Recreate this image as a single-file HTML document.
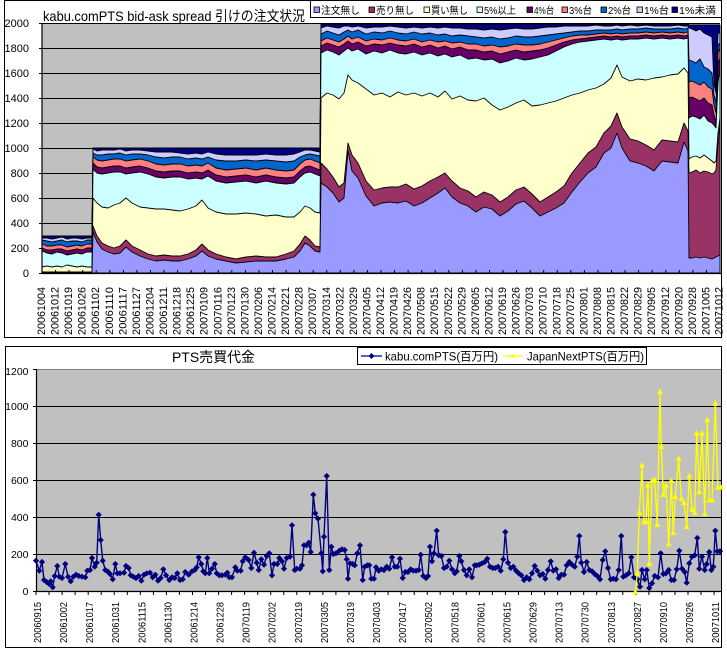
<!DOCTYPE html>
<html><head><meta charset="utf-8"><style>
html,body{margin:0;padding:0;background:#fff;}
svg{display:block;}
text{font-family:"Liberation Sans","Noto Sans CJK JP",sans-serif;fill:#000;}
</style></head><body>
<svg width="727" height="652" viewBox="0 0 727 652" xmlns="http://www.w3.org/2000/svg">
<defs>
<marker id="dm" markerWidth="7" markerHeight="7" refX="3.5" refY="3.5" markerUnits="userSpaceOnUse"><path d="M3.5,0.4 L6.6,3.5 L3.5,6.6 L0.4,3.5Z" fill="#000080"/></marker>
<marker id="tm" markerWidth="7" markerHeight="7" refX="3.5" refY="3.5" markerUnits="userSpaceOnUse"><path d="M3.5,0.3 L6.5,5.8 L0.5,5.8Z" fill="#FFFF00"/></marker>
</defs>

<!-- ============ TOP CHART ============ -->
<rect x="4.5" y="0.5" width="717" height="337" fill="#fff" stroke="#000" stroke-width="1"/>
<rect x="42" y="23" width="678" height="250" fill="#C0C0C0"/>
<g stroke="#000" stroke-width="1">
<path d="M42,23.5H720M42,48.5H720M42,73.5H720M42,98.5H720M42,123.5H720M42,148.5H720M42,173.5H720M42,198.5H720M42,223.5H720M42,248.5H720"/>
</g>

<g stroke="#000" stroke-width="0.9" stroke-linejoin="round">
<polygon fill="#000080" points="42,236 92,236 93,148 320,148 321,24 688,24 689,25 720,25 720,273 42,273"/>
<polygon fill="#CCCCFF" points="42,238 47,238 52,239 57,238 62,237 67,239 72,238 77,238 82,239 87,238 92,238 93,149 97,151 102,150 108,150 114,150 120,149 126,151 132,150 140,150 148,151 156,152 164,152 172,152 180,153 188,154 196,153 202,154 208,152 216,154 226,155 236,155 246,155 256,155 266,154 276,155 286,155 294,154 300,152 305,150 310,150 315,151 320,152 321,28 327,26 333,27 339,28 344,26 348,26 352,27 358,26 366,28 374,27 382,27 390,26 398,27 406,28 414,27 422,28 430,27 438,28 445,27 452,28 460,28 468,29 476,29 484,30 492,29 500,30 508,29 516,28 524,29 532,29 540,28 548,27 556,27 564,26 572,26 580,26 588,26 596,25 604,26 611,26 617,25 622,26 630,25 638,26 646,25 654,26 662,26 670,26 678,25 684,26 688,26 689,28 692,29 696,31 700,29 704,33 708,35 712,37 714,85 716,93 718,33 720,33 720,273 42,273"/>
<polygon fill="#0066CC" points="42,240 47,241 52,242 57,241 62,240 67,242 72,241 77,241 82,242 87,240 92,240 93,153 97,155 102,155 108,154 114,154 120,153 126,155 132,154 140,154 148,155 156,157 164,158 172,157 180,157 188,159 196,158 202,159 208,157 216,160 226,161 236,161 246,160 256,161 266,160 276,161 286,162 294,161 300,157 305,155 310,154 315,155 320,156 321,34 327,31 333,33 339,35 344,32 348,30 352,32 358,30 366,34 374,32 382,33 390,31 398,33 406,34 414,32 422,34 430,33 438,35 445,34 452,36 460,35 468,36 476,37 484,38 492,37 500,39 508,38 516,36 524,37 532,37 540,36 548,35 556,34 564,33 572,32 580,31 588,31 596,30 604,30 611,30 617,29 622,30 630,29 638,29 646,28 654,29 662,29 670,29 678,28 684,29 688,28 689,60 692,61 696,63 700,59 704,67 708,69 712,73 714,95 716,103 718,45 720,43 720,273 42,273"/>
<polygon fill="#FF8080" points="42,244 47,246 52,246 57,245 62,245 67,247 72,246 77,245 82,246 87,244 92,244 93,157 97,160 102,161 108,160 114,159 120,159 126,161 132,160 140,159 148,161 156,164 164,165 172,164 180,164 188,166 196,165 202,166 208,163 216,168 226,170 236,169 246,168 256,170 266,168 276,170 286,171 294,170 300,164 305,160 310,159 315,161 320,163 321,41 327,38 333,40 339,42 344,39 348,36 352,39 358,37 366,41 374,39 382,40 390,38 398,40 406,41 414,39 422,42 430,40 438,42 445,41 452,43 460,42 468,44 476,44 484,46 492,45 500,47 508,46 516,44 524,45 532,45 540,44 548,42 556,40 564,38 572,36 580,35 588,35 596,34 604,33 611,34 617,33 622,34 630,33 638,33 646,32 654,33 662,32 670,33 678,32 684,33 688,32 689,82 692,81 696,83 700,85 704,82 708,87 712,89 714,105 716,113 718,53 720,48 720,273 42,273"/>
<polygon fill="#660066" points="42,248 47,250 52,250 57,249 62,249 67,251 72,250 77,249 82,250 87,248 92,248 93,163 97,167 102,168 108,167 114,166 120,166 126,168 132,167 140,166 148,168 156,171 164,172 172,171 180,171 188,173 196,172 202,173 208,170 216,175 226,177 236,176 246,175 256,177 266,175 276,177 286,178 294,177 300,171 305,167 310,166 315,168 320,170 321,46 327,43 333,45 339,47 344,44 348,41 352,44 358,42 366,46 374,44 382,45 390,43 398,45 406,46 414,44 422,47 430,45 438,48 445,46 452,49 460,47 468,50 476,50 484,52 492,51 500,54 508,52 516,50 524,52 532,51 540,50 548,48 556,45 564,42 572,40 580,39 588,38 596,37 604,36 611,37 617,36 622,37 630,36 638,36 646,35 654,36 662,35 670,36 678,35 684,36 688,35 689,98 692,97 696,99 700,101 704,98 708,103 712,105 714,115 716,123 718,63 720,58 720,273 42,273"/>
<polygon fill="#CCFFFF" points="42,251 47,253 52,254 57,252 62,253 67,255 72,254 77,253 82,254 87,252 92,252 93,169 97,173 102,174 108,173 114,172 120,172 126,174 132,173 140,172 148,174 156,177 164,178 172,177 180,177 188,179 196,178 202,179 208,176 216,181 226,183 236,182 246,181 256,183 266,181 276,183 286,184 294,183 300,177 305,173 310,172 315,174 320,176 321,53 327,50 333,52 339,55 344,51 348,48 352,51 358,49 366,54 374,51 382,53 390,50 398,53 406,54 414,52 422,55 430,53 438,56 445,54 452,57 460,55 468,59 476,58 484,60 492,59 500,63 508,61 516,58 524,60 532,59 540,57 548,55 556,51 564,47 572,44 580,42 588,41 596,40 604,39 611,40 617,39 622,40 630,39 638,39 646,38 654,39 662,38 670,39 678,38 684,39 688,38 689,118 692,116 696,117 700,119 704,115 708,121 712,123 714,125 716,128 718,83 720,68 720,273 42,273"/>
<polygon fill="#FFFFCC" points="42,267 47,266 52,267 57,266 62,267 67,265 72,266 77,267 82,266 87,267 92,267 93,198 97,203 102,207 108,208 114,205 120,203 126,198 132,203 140,207 148,208 156,209 164,209 172,210 180,211 188,209 196,206 202,200 208,208 216,212 226,214 236,214 246,213 256,214 266,216 276,215 286,217 294,217 300,212 305,206 310,208 315,212 320,213 321,98 327,93 333,95 339,99 344,93 348,75 352,80 358,83 366,89 374,95 382,93 390,97 398,92 406,95 414,93 422,96 430,93 438,97 445,91 452,99 460,96 468,100 476,101 484,98 492,105 500,110 508,107 516,103 524,100 532,106 540,105 548,103 556,101 564,98 572,95 580,93 588,90 596,88 604,84 611,78 617,65 622,77 630,81 638,79 646,80 654,78 662,77 670,75 678,74 684,68 688,73 689,159 692,157 696,156 700,158 704,155 708,158 712,161 714,163 716,161 718,133 720,118 720,273 42,273"/>
<polygon fill="#993366" points="42,272 92,272 93,226 97,236 102,243 108,246 114,248 120,246 126,240 132,246 140,250 148,254 156,256 164,255 172,256 180,256 188,254 196,250 202,244 208,250 216,254 226,257 236,259 246,257 256,256 266,257 276,257 286,254 294,251 300,244 305,236 310,240 315,246 320,247 321,163 327,169 333,177 339,187 344,183 348,143 352,155 358,163 366,181 374,190 382,188 390,187 398,187 406,184 414,189 422,186 430,181 438,177 445,173 452,181 460,188 468,191 476,197 484,192 492,195 500,202 508,197 516,190 524,187 532,194 540,202 548,197 556,192 564,186 572,173 580,163 588,153 596,147 604,133 611,126 617,113 622,127 630,139 638,141 646,145 654,150 662,140 670,141 678,142 684,123 688,131 689,173 692,172 696,170 700,173 704,171 708,172 712,174 714,173 716,170 718,143 720,123 720,273 42,273"/>
<polygon fill="#9999FF" points="42,272.5 92,272.5 93,232 97,242 102,249 108,252 114,254 120,253 126,247 132,252 140,256 148,259 156,261 164,260 172,261 180,261 188,259 196,256 202,251 208,256 216,259 226,261 236,263 246,262 256,261 266,261 276,261 286,259 294,257 300,251 305,243 310,246 315,251 320,252 321,183 327,187 333,193 339,202 344,198 348,151 352,171 358,178 366,196 374,206 382,203 390,202 398,203 406,201 414,206 422,203 430,198 438,193 445,188 452,197 460,203 468,206 476,212 484,207 492,209 500,216 508,211 516,204 524,201 532,208 540,216 548,212 556,208 564,203 572,192 580,182 588,173 596,167 604,153 611,148 617,133 622,148 630,161 638,163 646,166 654,171 662,161 670,162 678,163 684,142 688,151 689,258 692,258 696,257 700,258 704,257 708,258 712,259 714,258 716,257 718,256 720,255 720,273 42,273"/>
</g>

<!-- top axes -->
<g stroke="#000" stroke-width="1.2" fill="none">
<path d="M42,23V273.5H721"/>
<path d="M42,270V273M55.6,270V273M69.1,270V273M82.7,270V273M96.2,270V273M109.8,270V273M123.4,270V273M136.9,270V273M150.5,270V273M164,270V273M177.6,270V273M191.2,270V273M204.7,270V273M218.3,270V273M231.8,270V273M245.4,270V273M259,270V273M272.5,270V273M286.1,270V273M299.6,270V273M313.2,270V273M326.8,270V273M340.3,270V273M353.9,270V273M367.4,270V273M381,270V273M394.6,270V273M408.1,270V273M421.7,270V273M435.2,270V273M448.8,270V273M462.4,270V273M475.9,270V273M489.5,270V273M503,270V273M516.6,270V273M530.2,270V273M543.7,270V273M557.3,270V273M570.8,270V273M584.4,270V273M598,270V273M611.5,270V273M625.1,270V273M638.6,270V273M652.2,270V273M665.8,270V273M679.3,270V273M692.9,270V273M706.4,270V273M720,270V273" stroke-width="1"/>
<path d="M39,23.5H42M39,48.5H42M39,73.5H42M39,98.5H42M39,123.5H42M39,148.5H42M39,173.5H42M39,198.5H42M39,223.5H42M39,248.5H42M39,273.5H42" stroke-width="1"/>
</g>

<g font-size="11" text-anchor="end">
<text x="29" y="277">0</text>
<text x="29" y="252">200</text>
<text x="29" y="227">400</text>
<text x="29" y="202">600</text>
<text x="29" y="177">800</text>
<text x="29" y="152">1000</text>
<text x="29" y="127">1200</text>
<text x="29" y="102">1400</text>
<text x="29" y="77">1600</text>
<text x="29" y="52">1800</text>
<text x="29" y="27">2000</text>
</g>

<g font-size="11">
<text transform="translate(45,335) rotate(-90)" textLength="48" lengthAdjust="spacingAndGlyphs">20061004</text>
<text transform="translate(58.6,335) rotate(-90)" textLength="48" lengthAdjust="spacingAndGlyphs">20061012</text>
<text transform="translate(72.1,335) rotate(-90)" textLength="48" lengthAdjust="spacingAndGlyphs">20061019</text>
<text transform="translate(85.7,335) rotate(-90)" textLength="48" lengthAdjust="spacingAndGlyphs">20061026</text>
<text transform="translate(99.2,335) rotate(-90)" textLength="48" lengthAdjust="spacingAndGlyphs">20061102</text>
<text transform="translate(112.8,335) rotate(-90)" textLength="48" lengthAdjust="spacingAndGlyphs">20061110</text>
<text transform="translate(126.4,335) rotate(-90)" textLength="48" lengthAdjust="spacingAndGlyphs">20061117</text>
<text transform="translate(139.9,335) rotate(-90)" textLength="48" lengthAdjust="spacingAndGlyphs">20061127</text>
<text transform="translate(153.5,335) rotate(-90)" textLength="48" lengthAdjust="spacingAndGlyphs">20061204</text>
<text transform="translate(167,335) rotate(-90)" textLength="48" lengthAdjust="spacingAndGlyphs">20061211</text>
<text transform="translate(180.6,335) rotate(-90)" textLength="48" lengthAdjust="spacingAndGlyphs">20061218</text>
<text transform="translate(194.2,335) rotate(-90)" textLength="48" lengthAdjust="spacingAndGlyphs">20061225</text>
<text transform="translate(207.7,335) rotate(-90)" textLength="48" lengthAdjust="spacingAndGlyphs">20070109</text>
<text transform="translate(221.3,335) rotate(-90)" textLength="48" lengthAdjust="spacingAndGlyphs">20070116</text>
<text transform="translate(234.8,335) rotate(-90)" textLength="48" lengthAdjust="spacingAndGlyphs">20070123</text>
<text transform="translate(248.4,335) rotate(-90)" textLength="48" lengthAdjust="spacingAndGlyphs">20070130</text>
<text transform="translate(262,335) rotate(-90)" textLength="48" lengthAdjust="spacingAndGlyphs">20070206</text>
<text transform="translate(275.5,335) rotate(-90)" textLength="48" lengthAdjust="spacingAndGlyphs">20070214</text>
<text transform="translate(289.1,335) rotate(-90)" textLength="48" lengthAdjust="spacingAndGlyphs">20070221</text>
<text transform="translate(302.6,335) rotate(-90)" textLength="48" lengthAdjust="spacingAndGlyphs">20070228</text>
<text transform="translate(316.2,335) rotate(-90)" textLength="48" lengthAdjust="spacingAndGlyphs">20070307</text>
<text transform="translate(329.8,335) rotate(-90)" textLength="48" lengthAdjust="spacingAndGlyphs">20070314</text>
<text transform="translate(343.3,335) rotate(-90)" textLength="48" lengthAdjust="spacingAndGlyphs">20070322</text>
<text transform="translate(356.9,335) rotate(-90)" textLength="48" lengthAdjust="spacingAndGlyphs">20070329</text>
<text transform="translate(370.4,335) rotate(-90)" textLength="48" lengthAdjust="spacingAndGlyphs">20070405</text>
<text transform="translate(384,335) rotate(-90)" textLength="48" lengthAdjust="spacingAndGlyphs">20070412</text>
<text transform="translate(397.6,335) rotate(-90)" textLength="48" lengthAdjust="spacingAndGlyphs">20070419</text>
<text transform="translate(411.1,335) rotate(-90)" textLength="48" lengthAdjust="spacingAndGlyphs">20070426</text>
<text transform="translate(424.7,335) rotate(-90)" textLength="48" lengthAdjust="spacingAndGlyphs">20070508</text>
<text transform="translate(438.2,335) rotate(-90)" textLength="48" lengthAdjust="spacingAndGlyphs">20070515</text>
<text transform="translate(451.8,335) rotate(-90)" textLength="48" lengthAdjust="spacingAndGlyphs">20070522</text>
<text transform="translate(465.4,335) rotate(-90)" textLength="48" lengthAdjust="spacingAndGlyphs">20070529</text>
<text transform="translate(478.9,335) rotate(-90)" textLength="48" lengthAdjust="spacingAndGlyphs">20070605</text>
<text transform="translate(492.5,335) rotate(-90)" textLength="48" lengthAdjust="spacingAndGlyphs">20070612</text>
<text transform="translate(506,335) rotate(-90)" textLength="48" lengthAdjust="spacingAndGlyphs">20070619</text>
<text transform="translate(519.6,335) rotate(-90)" textLength="48" lengthAdjust="spacingAndGlyphs">20070626</text>
<text transform="translate(533.2,335) rotate(-90)" textLength="48" lengthAdjust="spacingAndGlyphs">20070703</text>
<text transform="translate(546.7,335) rotate(-90)" textLength="48" lengthAdjust="spacingAndGlyphs">20070710</text>
<text transform="translate(560.3,335) rotate(-90)" textLength="48" lengthAdjust="spacingAndGlyphs">20070718</text>
<text transform="translate(573.8,335) rotate(-90)" textLength="48" lengthAdjust="spacingAndGlyphs">20070725</text>
<text transform="translate(587.4,335) rotate(-90)" textLength="48" lengthAdjust="spacingAndGlyphs">20070801</text>
<text transform="translate(601,335) rotate(-90)" textLength="48" lengthAdjust="spacingAndGlyphs">20070808</text>
<text transform="translate(614.5,335) rotate(-90)" textLength="48" lengthAdjust="spacingAndGlyphs">20070815</text>
<text transform="translate(628.1,335) rotate(-90)" textLength="48" lengthAdjust="spacingAndGlyphs">20070822</text>
<text transform="translate(641.6,335) rotate(-90)" textLength="48" lengthAdjust="spacingAndGlyphs">20070829</text>
<text transform="translate(655.2,335) rotate(-90)" textLength="48" lengthAdjust="spacingAndGlyphs">20070905</text>
<text transform="translate(668.8,335) rotate(-90)" textLength="48" lengthAdjust="spacingAndGlyphs">20070912</text>
<text transform="translate(682.3,335) rotate(-90)" textLength="48" lengthAdjust="spacingAndGlyphs">20070920</text>
<text transform="translate(695.9,335) rotate(-90)" textLength="48" lengthAdjust="spacingAndGlyphs">20070928</text>
<text transform="translate(709.4,335) rotate(-90)" textLength="48" lengthAdjust="spacingAndGlyphs">20071005</text>
<text transform="translate(722.5,335) rotate(-90)" textLength="48" lengthAdjust="spacingAndGlyphs">20071012</text>
</g>

<!-- top title -->
<text x="43" y="21" font-size="14" textLength="262" lengthAdjust="spacingAndGlyphs">kabu.comPTS bid-ask spread 引けの注文状況</text>

<!-- top legend -->
<rect x="310.5" y="0.5" width="411" height="17" fill="#fff" stroke="#000" stroke-width="1"/>
<g stroke="#000" stroke-width="0.8">
<rect x="314" y="7" width="5.5" height="5.5" fill="#9999FF"/>
<rect x="369" y="7" width="5.5" height="5.5" fill="#993366"/>
<rect x="424" y="7" width="5.5" height="5.5" fill="#FFFFCC"/>
<rect x="477" y="7" width="5.5" height="5.5" fill="#CCFFFF"/>
<rect x="527" y="7" width="5.5" height="5.5" fill="#660066"/>
<rect x="562" y="7" width="5.5" height="5.5" fill="#FF8080"/>
<rect x="601" y="7" width="5.5" height="5.5" fill="#0066CC"/>
<rect x="637" y="7" width="5.5" height="5.5" fill="#CCCCFF"/>
<rect x="672" y="7" width="5.5" height="5.5" fill="#000080"/>
</g>
<g font-size="10">
<text x="321" y="14" textLength="39" lengthAdjust="spacingAndGlyphs">注文無し</text>
<text x="376" y="14" textLength="38" lengthAdjust="spacingAndGlyphs">売り無し</text>
<text x="431" y="14" textLength="37" lengthAdjust="spacingAndGlyphs">買い無し</text>
<text x="484" y="14" textLength="32" lengthAdjust="spacingAndGlyphs">5%以上</text>
<text x="534" y="14" textLength="20" lengthAdjust="spacingAndGlyphs">4%台</text>
<text x="569" y="14" textLength="23" lengthAdjust="spacingAndGlyphs">3%台</text>
<text x="608" y="14" textLength="23" lengthAdjust="spacingAndGlyphs">2%台</text>
<text x="644" y="14" textLength="25" lengthAdjust="spacingAndGlyphs">1%台</text>
<text x="679" y="14" textLength="37" lengthAdjust="spacingAndGlyphs">1%未満</text>
</g>

<!-- ============ BOTTOM CHART ============ -->
<rect x="5.5" y="346.5" width="716" height="301" fill="#fff" stroke="#000" stroke-width="1"/>
<rect x="36" y="369" width="685" height="222" fill="#C0C0C0"/>
<path d="M36,369.5H721" stroke="#808080" stroke-width="1"/>
<path d="M36,406.5H721M36,443.5H721M36,480.5H721M36,517.5H721M36,554.5H721" stroke="#000" stroke-width="1"/>
<g stroke="#000" fill="none">
<path d="M36.5,369V591.5H721" stroke-width="1.2"/>
<path d="M33,369.5H36M33,406.5H36M33,443.5H36M33,480.5H36M33,517.5H36M33,554.5H36M33,591.5H36" stroke-width="1"/>
<path d="M36,591V595M49,591V595M62.1,591V595M75.1,591V595M88.2,591V595M101.2,591V595M114.2,591V595M127.3,591V595M140.3,591V595M153.4,591V595M166.4,591V595M179.4,591V595M192.5,591V595M205.5,591V595M218.6,591V595M231.6,591V595M244.6,591V595M257.7,591V595M270.7,591V595M283.8,591V595M296.8,591V595M309.8,591V595M322.9,591V595M335.9,591V595M349,591V595M362,591V595M375,591V595M388.1,591V595M401.1,591V595M414.2,591V595M427.2,591V595M440.2,591V595M453.3,591V595M466.3,591V595M479.4,591V595M492.4,591V595M505.4,591V595M518.5,591V595M531.5,591V595M544.6,591V595M557.6,591V595M570.6,591V595M583.7,591V595M596.7,591V595M609.8,591V595M622.8,591V595M635.8,591V595M648.9,591V595M661.9,591V595M675,591V595M688,591V595M701,591V595M714.1,591V595" stroke-width="1"/>
</g>

<!-- kabu series -->
<polyline fill="none" stroke="#000080" stroke-width="1.4" stroke-linejoin="round" marker-start="url(#dm)" marker-mid="url(#dm)" marker-end="url(#dm)" points="36,560.7 39.3,570.7 42,562 44,580 46.7,582 49.3,584 50.7,581.3 52.7,587.3 54.7,576 57.3,566 59.3,576.7 62,578 65.3,564 68,576.7 70.7,581.3 73.3,576.7 76,574.7 78.7,576 82,576.7 85.3,577.3 87.3,570.7 90,570 92,558 94.7,566.7 96.7,562.7 98.7,514.7 100.7,540 102.7,560.7 105.3,570 108,571.7 110,574 112.7,579.3 115.3,564 117.3,573.3 120,573.3 124,572.7 126,566 128.7,568 130.7,575.3 133.3,576.7 136,578 138.7,576 141.3,580.7 144,574.7 146.7,573.3 150,572.7 152.7,577.3 155.3,574.7 158,580.7 160.7,578 163.3,569.3 166,575.3 169.3,580 172,577.3 174.7,578 177.3,573.3 180,580 182.7,579.3 185.3,572 188.7,574.7 192,571.3 194.7,570 196.7,567.3 198.7,557.3 201.3,564 203.3,571.3 205.3,573.3 207.3,558 209.3,573.3 212,568.7 214.7,564 216.7,573.3 219.3,575.3 222,575.3 225.3,574.7 227.3,572.7 229.3,577.3 232,577.3 235.3,567.3 237.3,570.7 240.7,570.7 242.7,561.3 245.3,557.3 248.7,560 251.3,568 254,552.7 256.7,562.7 258.7,570 261.3,559.3 264,564.7 266.7,556 269.3,553.3 272,575.3 274,564 277.3,564 279.3,558 282,561.3 284,568.7 286.7,558 290,556.7 292,525.3 294.7,570 296.7,568.7 300,568.7 302,565.3 304,545.3 306.7,545.3 308.7,542.7 310.7,552 313.3,494.7 315.3,513.3 318,518.7 321.3,553.3 322.7,571.3 324,536.7 326.7,476 329.3,570 331.3,546.7 333.3,554 336,553.3 339.3,550.7 342,549.3 344.7,550 346.7,559.3 348,578.7 350,563.3 352.7,564 354.7,565.3 357.3,553.3 360,545.3 362.7,580 364.7,566.7 367.3,565.3 369.3,565.3 371.3,578.7 374,578.7 376,567.3 378.7,570.7 381.3,569.3 384,570 386.7,566.7 389.3,568.7 392,557.3 394.7,566.7 397.3,566.7 400,558.7 402.7,578 405.3,572 408,572 410.7,569.3 413.3,570.7 416,570.7 418.7,570 420.7,554.7 423.3,576 426,578 428,576 430,546.7 432,561.3 434,553.3 436.7,530.7 438.7,555.3 441.3,556 444,568 446.7,566.7 449.3,560.7 452,569.3 454.7,573.3 456.7,571.3 459.3,556 461.3,561.3 464,570 466.7,575.3 469.3,569.3 472,577.3 474.7,565.3 476.7,565.3 479.3,564.7 482,563.3 484.7,562 487.3,558.7 490,566.7 492.7,568 495.3,568 498,566.7 500.7,570.7 503.3,559.3 505.3,532 508,562.7 510.7,568 513.3,566.7 516,570.7 518.7,573.3 521.3,575.3 524,580 526.7,577.3 529.3,579.3 532,573.3 534.7,566 537.3,570.7 540,575.3 542.7,574 545.3,578.7 548,570 550.7,561.3 553.3,570.7 556,569.3 558.7,578 561.3,574.7 564,574.7 566.7,565.3 569.3,562 572,564.7 574.7,566.7 577.3,556.7 579.3,536 581.3,562.7 584,572 586.7,562 589.3,570 592,571.3 594.7,574 597.3,576 600,579.3 602.7,560 605.3,551.3 608,568 610.7,579.3 613.3,578.7 616,579.3 618.7,570 621.3,536 623.3,576.7 626,575.3 628.7,573.3 631.3,557.3 634,577.3 637.3,579.3 640,586.7 642,570 644.7,579.3 646.7,570 649.3,588 652,583.3 654.7,576 658,577.3 660.7,553.3 663.3,574 666,573.3 668.7,570 671.3,580 674,580 676.7,569.3 679.3,550.7 682,568.7 684.7,572 686.7,582.7 689.3,563.3 692,556.7 694.7,555.3 697.3,538 699.3,568.7 702,556.7 704.7,570 706.7,564 709.3,552 711.3,570 713.3,566.7 715.3,530.7 717.3,551.3 720,551.3"/>

<!-- JapanNext series -->
<polyline fill="none" stroke="#FFFF00" stroke-width="1.3" stroke-linejoin="round" marker-start="url(#tm)" marker-mid="url(#tm)" marker-end="url(#tm)" points="635.3,592 637.3,573.3 639.3,512.7 642,465.3 644,522 646,522 648,485.3 649.3,564 652,480.7 654.7,480 657.3,524.7 660,392 661.3,446.7 663.3,494.7 666,485.3 668.7,544 671.3,480.7 673.3,532.7 675.3,496.7 678.7,458.7 681.3,498.7 684,502.7 686.7,526.7 689.3,476 692,509.3 694.7,512.7 696.7,433.3 699.3,492 702,433.3 704.7,514 707.3,420 709.3,500 712,500 715.3,403.3 718,487.3 721,487.3"/>

<g font-size="10.5" text-anchor="end">
<text x="28.5" y="595">0</text>
<text x="28.5" y="558">200</text>
<text x="28.5" y="521">400</text>
<text x="28.5" y="484">600</text>
<text x="28.5" y="447">800</text>
<text x="28.5" y="410">1000</text>
<text x="28.5" y="375">1200</text>
</g>

<g font-size="10">
<text transform="translate(41,643) rotate(-90)" textLength="41" lengthAdjust="spacingAndGlyphs">20060915</text>
<text transform="translate(67.1,643) rotate(-90)" textLength="41" lengthAdjust="spacingAndGlyphs">20061002</text>
<text transform="translate(93.2,643) rotate(-90)" textLength="41" lengthAdjust="spacingAndGlyphs">20061017</text>
<text transform="translate(119.2,643) rotate(-90)" textLength="41" lengthAdjust="spacingAndGlyphs">20061031</text>
<text transform="translate(145.3,643) rotate(-90)" textLength="41" lengthAdjust="spacingAndGlyphs">20061115</text>
<text transform="translate(171.4,643) rotate(-90)" textLength="41" lengthAdjust="spacingAndGlyphs">20061130</text>
<text transform="translate(197.5,643) rotate(-90)" textLength="41" lengthAdjust="spacingAndGlyphs">20061214</text>
<text transform="translate(223.6,643) rotate(-90)" textLength="41" lengthAdjust="spacingAndGlyphs">20061228</text>
<text transform="translate(249.6,643) rotate(-90)" textLength="41" lengthAdjust="spacingAndGlyphs">20070119</text>
<text transform="translate(275.7,643) rotate(-90)" textLength="41" lengthAdjust="spacingAndGlyphs">20070202</text>
<text transform="translate(301.8,643) rotate(-90)" textLength="41" lengthAdjust="spacingAndGlyphs">20070219</text>
<text transform="translate(327.9,643) rotate(-90)" textLength="41" lengthAdjust="spacingAndGlyphs">20070305</text>
<text transform="translate(354,643) rotate(-90)" textLength="41" lengthAdjust="spacingAndGlyphs">20070319</text>
<text transform="translate(380,643) rotate(-90)" textLength="41" lengthAdjust="spacingAndGlyphs">20070403</text>
<text transform="translate(406.1,643) rotate(-90)" textLength="41" lengthAdjust="spacingAndGlyphs">20070417</text>
<text transform="translate(432.2,643) rotate(-90)" textLength="41" lengthAdjust="spacingAndGlyphs">20070502</text>
<text transform="translate(458.3,643) rotate(-90)" textLength="41" lengthAdjust="spacingAndGlyphs">20070518</text>
<text transform="translate(484.4,643) rotate(-90)" textLength="41" lengthAdjust="spacingAndGlyphs">20070601</text>
<text transform="translate(510.4,643) rotate(-90)" textLength="41" lengthAdjust="spacingAndGlyphs">20070615</text>
<text transform="translate(536.5,643) rotate(-90)" textLength="41" lengthAdjust="spacingAndGlyphs">20070629</text>
<text transform="translate(562.6,643) rotate(-90)" textLength="41" lengthAdjust="spacingAndGlyphs">20070713</text>
<text transform="translate(588.7,643) rotate(-90)" textLength="41" lengthAdjust="spacingAndGlyphs">20070730</text>
<text transform="translate(614.8,643) rotate(-90)" textLength="41" lengthAdjust="spacingAndGlyphs">20070813</text>
<text transform="translate(640.8,643) rotate(-90)" textLength="41" lengthAdjust="spacingAndGlyphs">20070827</text>
<text transform="translate(666.9,643) rotate(-90)" textLength="41" lengthAdjust="spacingAndGlyphs">20070910</text>
<text transform="translate(693,643) rotate(-90)" textLength="41" lengthAdjust="spacingAndGlyphs">20070926</text>
<text transform="translate(719.1,643) rotate(-90)" textLength="41" lengthAdjust="spacingAndGlyphs">20071011</text>
</g>

<!-- bottom title -->
<text x="172" y="362" font-size="14" textLength="83" lengthAdjust="spacingAndGlyphs">PTS売買代金</text>

<!-- bottom legend -->
<rect x="357.5" y="347.5" width="289" height="17" fill="#fff" stroke="#000" stroke-width="1"/>
<path d="M361,356H382" stroke="#000080" stroke-width="1.3"/>
<path d="M371.5,353 L374.5,356 L371.5,359 L368.5,356Z" fill="#000080"/>
<text x="385" y="360.5" font-size="12" textLength="113" lengthAdjust="spacingAndGlyphs">kabu.comPTS(百万円)</text>
<path d="M503,356H523" stroke="#FFFF00" stroke-width="1.3"/>
<path d="M513,353 L515.5,357.5 L510.5,357.5Z" fill="#FFFF00"/>
<text x="527" y="360.5" font-size="12" textLength="117" lengthAdjust="spacingAndGlyphs">JapanNextPTS(百万円)</text>
</svg>
</body></html>
